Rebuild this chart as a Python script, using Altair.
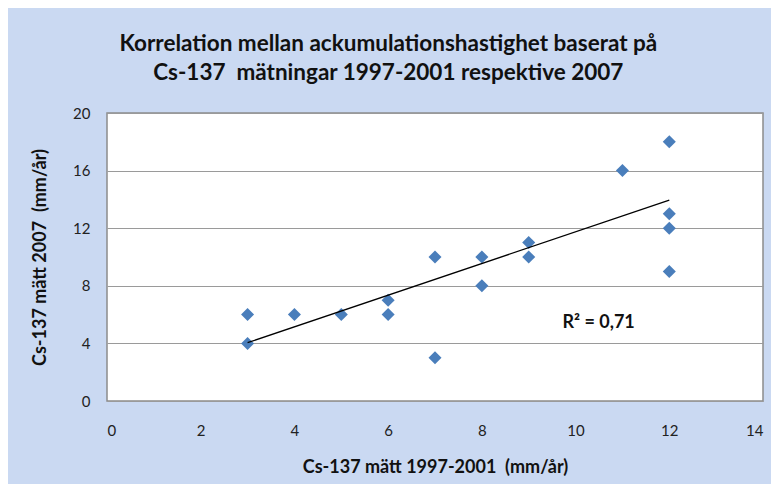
import altair as alt
import pandas as pd

x_vals = [3, 3, 4, 5, 6, 6, 7, 7, 8, 8, 9, 9, 11, 12, 12, 12, 12]
y_vals = [6, 4, 6, 6, 7, 6, 10, 3, 10, 8, 11, 10, 16, 18, 13, 12, 9]
trend_x = [3, 12]
trend_y = [4.05, 13.95]
x_ticks = [0, 2, 4, 6, 8, 10, 12, 14]
y_ticks = [0, 4, 8, 12, 16, 20]
title_lines = ["Korrelation mellan ackumulationshastighet baserat på",
               "Cs-137\u00a0 mätningar 1997-2001 respektive 2007"]
x_title = "Cs-137 mätt 1997-2001\u00a0 (mm/år)"
y_title = "Cs-137 mätt 2007\u00a0 (mm/år)"
r2_label = ["R² = 0,71"]
r2_x = [9.72]
r2_y = [5.45]

df = pd.DataFrame({"x": x_vals, "y": y_vals})
tr = pd.DataFrame({"x": trend_x, "y": trend_y})
ann = pd.DataFrame({"x": r2_x, "y": r2_y, "t": r2_label})

FONT = "Lato"

xenc = alt.X("x:Q", scale=alt.Scale(domain=[0, 14], nice=False),
             axis=alt.Axis(values=x_ticks, title=x_title, grid=False, ticks=False,
                           domain=False, labelPadding=22, titlePadding=20,
                           labelFontSize=15, titleFontSize=18, titleFontWeight="bold",
                           labelColor="#222", titleColor="#111", labelFont=FONT, titleFont=FONT))
yenc = alt.Y("y:Q", scale=alt.Scale(domain=[0, 20], nice=False),
             axis=alt.Axis(values=y_ticks, title=y_title, grid=True, gridColor="#9a9a9a",
                           gridWidth=1.2, ticks=False, domain=False, labelPadding=17,
                           titlePadding=23, labelFontSize=15, titleFontSize=18,
                           titleFontWeight="bold", labelColor="#222", titleColor="#111",
                           labelFont=FONT, titleFont=FONT))

points = alt.Chart(df).mark_point(shape="diamond", filled=True, size=170,
                                  color="#4a7ebb", opacity=1).encode(x=xenc, y=yenc)

trend = alt.Chart(tr).mark_line(color="#000000", strokeWidth=1.3).encode(x="x:Q", y="y:Q")

label = alt.Chart(ann).mark_text(align="left", baseline="middle", fontSize=18,
                                 fontWeight="bold", font=FONT, color="#111").encode(
    x="x:Q", y="y:Q", text="t:N")

chart = alt.layer(points, trend, label).properties(
    width=656, height=288,
    title=alt.TitleParams(text=title_lines, anchor="middle", frame="bounds",
                          fontSize=22.5, fontWeight="bold", font=FONT, color="#111",
                          lineHeight=29, offset=22, dx=-9),
    autosize=alt.AutoSizeParams(type="none"),
    padding={"left": 99, "top": 105, "right": 8, "bottom": 83},
).configure(background="#cad9f2").configure_view(stroke="#8c8c8c", strokeWidth=1.5, fill="white")

chart.save("out.html", embed_options={"renderer": "svg", "actions": False})
